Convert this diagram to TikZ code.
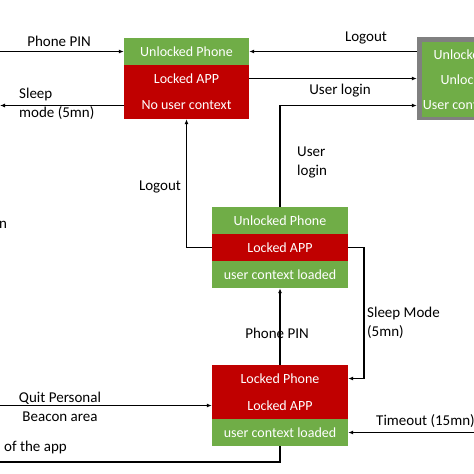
\documentclass[tikz,border=0pt]{standalone}
\usepackage{fontspec}
\setmainfont{Carlito}
\usetikzlibrary{arrows.meta}
\definecolor{mygreen}{RGB}{112,173,71}
\definecolor{myred}{RGB}{192,0,0}
\definecolor{frame}{RGB}{128,128,128}
\newcommand{\boxfont}{\fontsize{14}{16}\selectfont}
\newcommand{\lblfont}{\fontsize{15}{19}\selectfont}
\tikzset{
  row/.style={minimum height=27pt, inner sep=0pt, text=white, font=\boxfont, draw=none},
  rowA/.style={row, minimum width=125pt},
  rowC/.style={row, minimum width=136pt},
  rowB/.style={row, minimum width=116pt, minimum height=25pt},
  grn/.style={fill=mygreen},
  rd/.style={fill=myred},
  conn/.style={line width=1.2pt, black},
  arr/.style={conn, -{Latex[length=5pt,width=4pt]}},
  lbl/.style={font=\lblfont, inner sep=0pt, text=black},
}
\begin{document}
\begin{tikzpicture}[x=1pt,y=-1pt]
\useasboundingbox (0,0) rectangle (474,474);
\clip (0,0) rectangle (474,474);
\fill[white] (0,0) rectangle (474,474);

% Box A
\node[rowA,grn] (A1) at (186.5,51.5) {Unlocked Phone};
\node[rowA,rd]  (A2) at (186.5,78.5) {Locked APP};
\node[rowA,rd]  (A3) at (186.5,105.5) {No user context};

% Box B (gray frame)
\node[fill=frame, minimum width=126pt, minimum height=83pt, inner sep=0pt] (B) at (480,78.5) {};
\node[rowB,grn] (B1) at (480,54.5) {Unlocked Phone};
\node[rowB,grn] (B2) at (480,79.5) {Unlocked APP};
\node[rowB,grn] (B3) at (480,104.5) {User context loaded};

% Box C
\node[rowC,grn] (C1) at (280,220.5) {Unlocked Phone};
\node[rowC,rd]  (C2) at (280,247.5) {Locked APP};
\node[rowC,grn] (C3) at (280,274.5) {user context loaded};

% Box D
\node[rowC,rd]  (D1) at (280,378.5) {Locked Phone};
\node[rowC,rd]  (D2) at (280,405.5) {Locked APP};
\node[rowC,grn] (D3) at (280,432.5) {user context loaded};

% free ends
\coordinate (pinL) at (0,51.5);
\coordinate (sleepL) at (0,105.5);
\coordinate (sleepR) at (364,247.5);
\coordinate (quitL) at (0,405.5);
\coordinate (closeB) at (280,462);
\coordinate (closeL) at (0,462);
\coordinate (timeR) at (474,432.5);

% connectors
\draw[arr] (pinL) -- (A1.west);
\draw[arr] (A3.west) -- (sleepL);
\draw[arr] (B.west |- A1) -- (A1.east);
\draw[arr] (A2.east) -- (B.west |- A2);
\draw[arr] (C1.north) -- (C1.north |- A3) -- (B.west |- A3);
\draw[arr] (C2.west) -| (A3.south);
\draw[arr] (C2.east) -- (sleepR) |- (D1.east);
\draw[arr] (D1.north) -- (C3.south);
\draw[arr] (quitL) -- (D2.west);
\draw[conn] (D3.south) -- (closeB) -- (closeL);
\draw[arr] (timeR) -- (D3.east);

% labels
\node[lbl] (lPin1) at (59,41) {Phone PIN};
\node[lbl, anchor=west, align=left] (lSleep1) at (19,103.5) {Sleep\\mode (5mn)};
\node[lbl] (lLogout1) at (366,38) {Logout};
\node[lbl] (lLogin1) at (340,91) {User login};
\node[lbl, anchor=west, align=left] (lLogin2) at (297,162.5) {User\\login};
\node[lbl] (lLogout2) at (160,187) {Logout};
\node[lbl, anchor=west, align=left] (lSleep2) at (367,322.5) {Sleep Mode\\(5mn)};
\node[lbl] (lPin2) at (277,333) {Phone PIN};
\node[lbl, align=center] (lQuit) at (60,406.5) {Quit Personal\\Beacon area};
\node[lbl, anchor=west] (lClose) at (4,447) {of the app};
\node[lbl, anchor=west] (lTime) at (376,421) {Timeout (15mn)};
\node[lbl, anchor=west] (lN) at (-1,225) {n};
\end{tikzpicture}
\end{document}
